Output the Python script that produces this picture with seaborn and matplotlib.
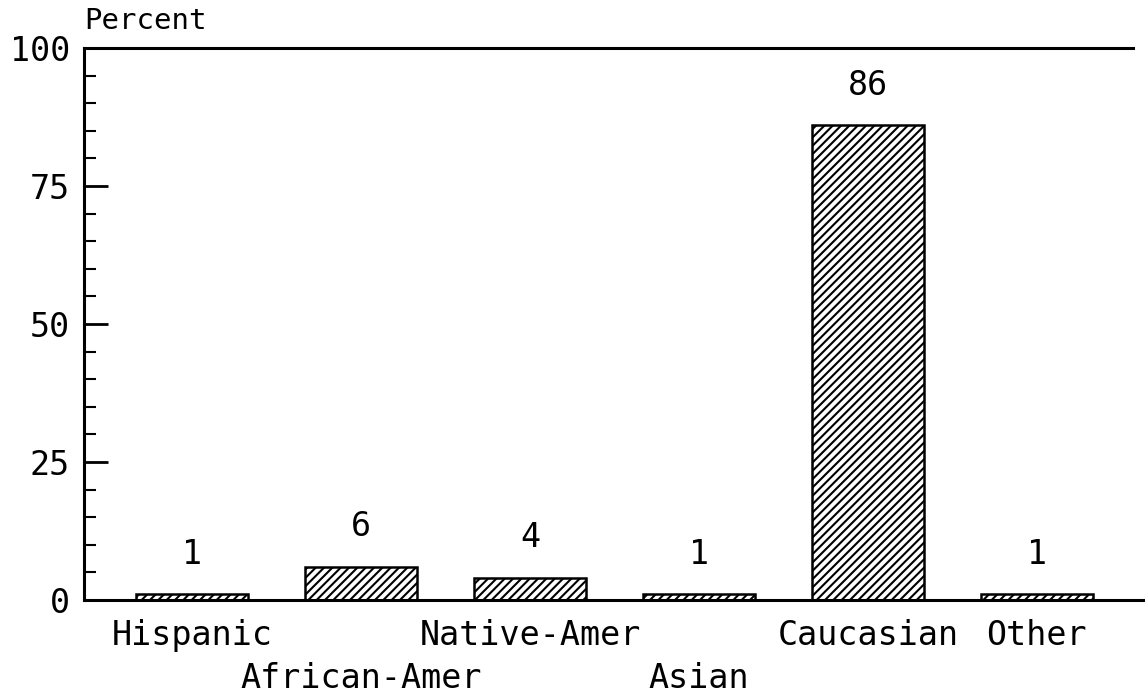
import matplotlib
matplotlib.use('Agg')
import matplotlib.pyplot as plt
import seaborn as sns
import pandas as pd
from matplotlib.ticker import MultipleLocator

# Data
categories = ['Hispanic', 'African-Amer', 'Native-Amer', 'Asian', 'Caucasian', 'Other']
label_row = [0, 1, 0, 1, 0, 0]  # staggered tick labels: 0 = top row, 1 = lower row
percents = [1, 6, 4, 1, 86, 1]

df = pd.DataFrame({'group': categories, 'pct': percents})

sns.set_style('white')
plt.rcParams['font.family'] = ['DejaVu Sans Mono']
plt.rcParams['text.color'] = 'black'
plt.rcParams['xtick.color'] = 'black'
plt.rcParams['ytick.color'] = 'black'
plt.rcParams['hatch.linewidth'] = 1.5

fig = plt.figure(figsize=(11.45, 7), dpi=100)
ax = fig.add_axes([84 / 1145, 100 / 700, 1 - 84 / 1145, 552 / 700])

sns.barplot(data=df, x='group', y='pct', color='white', edgecolor='black',
            linewidth=1.8, width=0.66, ax=ax, saturation=1)
for p in ax.patches:
    p.set_hatch('////')

ax.bar_label(ax.containers[0], fmt='%d', padding=17, fontsize=24)

ax.set_xlim(-0.64, 5.64)
ax.set_ylim(0, 100)
ax.yaxis.set_major_locator(MultipleLocator(25))
ax.yaxis.set_minor_locator(MultipleLocator(5))
ax.tick_params(axis='y', which='major', direction='in', length=17, width=2,
               labelsize=24, pad=10, left=True)
ax.tick_params(axis='y', which='minor', direction='in', length=8.5, width=1.5, left=True)
ax.tick_params(axis='x', length=0, labelsize=24, pad=14)
ax.set_xticks(range(len(categories)))
ax.set_xticklabels(categories)
for tick, row in zip(ax.xaxis.get_major_ticks(), label_row):
    tick.set_pad(14 + 31 * row)
ax.set_xlabel('')
ax.set_ylabel('')

for s in ['left', 'bottom', 'top']:
    ax.spines[s].set_linewidth(2.2)
    ax.spines[s].set_color('black')
ax.spines['right'].set_visible(False)
ax.spines['top'].set_bounds(-0.64, 5.57)

fig.text(84 / 1145, 1 - 7 / 700, 'Percent', fontsize=21, va='top', ha='left')

fig.savefig('out.png', dpi=100)
